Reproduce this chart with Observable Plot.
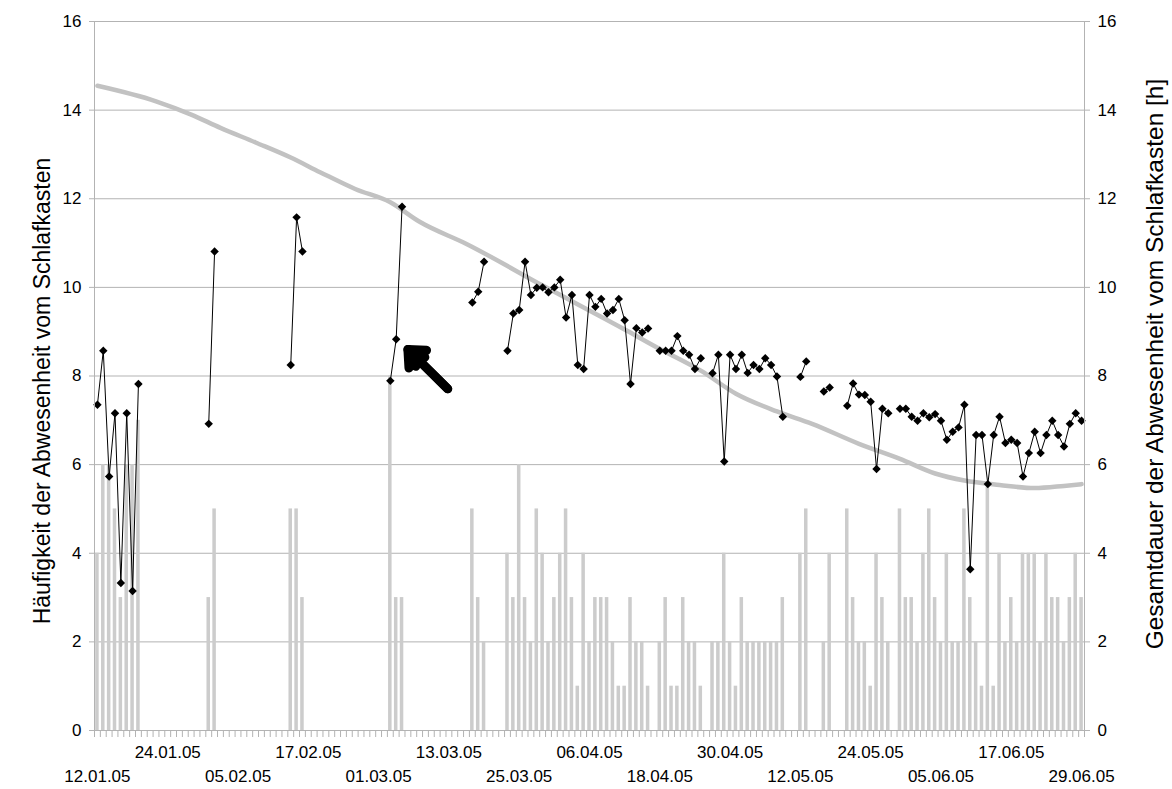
<!DOCTYPE html>
<html>
<head>
<meta charset="utf-8">
<script src="https://cdn.jsdelivr.net/npm/d3@7"></script>
<script src="https://cdn.jsdelivr.net/npm/@observablehq/plot@0.6"></script>
<style>
  html, body { margin: 0; padding: 0; background: #fff; }
  #chart svg { display: block; }
</style>
</head>
<body>
<div id="chart"></div>
<script>
// Häufigkeit der Abwesenheit (bars, left axis), one value per day from 12.01.05
const haeufigkeit = [
  4,6,6,5,3,6,6,7,0,0,0,0,
  0,0,0,0,0,0,0,3,5,0,0,0,
  0,0,0,0,0,0,0,0,0,5,5,3,
  0,0,0,0,0,0,0,0,0,0,0,0,
  0,0,8,3,3,0,0,0,0,0,0,0,
  0,0,0,0,5,3,2,0,0,0,4,3,
  6,3,2,5,4,2,3,4,5,3,1,4,
  2,3,3,3,2,1,1,3,2,2,1,0,
  2,3,1,1,3,2,2,1,0,2,2,4,
  2,1,3,2,2,2,2,2,2,3,0,0,
  4,5,0,0,2,4,0,0,5,3,2,2,
  1,4,3,2,0,5,3,3,2,4,5,3,
  2,4,2,2,5,3,2,1,5.5,1,4,2,
  3,2,4,4,4,2,4,3,3,2,3,4,
  3
];

// Gesamtdauer der Abwesenheit [h] (black line with diamonds, right axis)
const gesamtdauer = [
  7.35,8.57,5.73,7.16,3.33,7.16,3.15,7.82,null,null,null,null,
  null,null,null,null,null,null,null,6.92,10.81,null,null,null,
  null,null,null,null,null,null,null,null,null,8.25,11.58,10.81,
  null,null,null,null,null,null,null,null,null,null,null,null,
  null,null,7.89,8.83,11.82,null,null,null,null,null,null,null,
  null,null,null,null,9.66,9.9,10.58,null,null,null,8.57,9.41,
  9.49,10.58,9.83,9.99,10.0,9.89,10.0,10.17,9.32,9.83,8.25,8.16,
  9.83,9.56,9.74,9.41,9.49,9.74,9.26,7.82,9.08,8.98,9.07,null,
  8.57,8.57,8.57,8.9,8.57,8.48,8.16,8.4,null,8.06,8.48,6.07,
  8.48,8.16,8.48,8.07,8.25,8.16,8.4,8.25,7.99,7.08,null,null,
  7.98,8.33,null,null,7.65,7.74,null,null,7.33,7.83,7.58,7.57,
  7.42,5.9,7.26,7.16,null,7.26,7.26,7.08,6.99,7.16,7.07,7.14,
  6.99,6.56,6.74,6.84,7.35,3.64,6.67,6.67,5.56,6.67,7.08,6.49,
  6.56,6.49,5.73,6.26,6.74,6.26,6.67,6.99,6.67,6.41,6.92,7.16,
  6.99
];

// Grey reference curve (at these day indices)
const kurveTage  = [0, 10, 16, 21, 27, 33, 38, 44, 50, 55, 63, 76, 90, 96, 103, 109, 116, 122, 130, 137, 143, 148, 154, 160, 165, 168];
const kurveWerte = [14.55, 14.2, 13.9, 13.6, 13.27, 12.93, 12.6, 12.22, 11.92, 11.48, 10.98, 10.04, 9.05, 8.61, 8.12, 7.6, 7.2, 6.92, 6.47, 6.13, 5.8, 5.64, 5.54, 5.47, 5.52, 5.56];

// Axis ticks and labels
const yTicks = [0, 2, 4, 6, 8, 10, 12, 14, 16];
const labelTageOben  = [12, 36, 60, 84, 108, 132, 156];
const labelTexteOben = ["24.01.05", "17.02.05", "13.03.05", "06.04.05", "30.04.05", "24.05.05", "17.06.05"];
const labelTageUnten  = [0, 24, 48, 72, 96, 120, 144, 168];
const labelTexteUnten = ["12.01.05", "05.02.05", "01.03.05", "25.03.05", "18.04.05", "12.05.05", "05.06.05", "29.06.05"];

const titelLinks  = "Häufigkeit der Abwesenheit vom Schlafkasten";
const titelRechts = "Gesamtdauer der Abwesenheit vom Schlafkasten [h]";

// Arrow annotation (day index / value)
const pfeil = [{x1: 59.8, y1: 7.71, x2: 53.0, y2: 8.6}];

// ---- build ----
const N = haeufigkeit.length;
const tage = haeufigkeit.map((h, i) => ({i, h, g: gesamtdauer[i]}));
const kurve = kurveTage.map((t, k) => ({i: t, v: kurveWerte[k]}));
const grenzTicks = d3.range(N + 1).map(k => k - 0.5);
const mapOben = new Map(labelTageOben.map((t, k) => [t, labelTexteOben[k]]));
const mapUnten = new Map(labelTageUnten.map((t, k) => [t, labelTexteUnten[k]]));

const axisColor = "#b3b3b3";
const tickFont = 17;

const chart = Plot.plot({
  width: 1172,
  height: 789,
  marginLeft: 94,
  marginRight: 88,
  marginTop: 21,
  marginBottom: 59,
  style: {fontFamily: "'Liberation Sans', Arial, sans-serif", fontSize: tickFont + "px", background: "white", color: "black"},
  x: {type: "linear", domain: [-0.5, N - 0.5], axis: null, label: null},
  y: {domain: [0, 16], axis: null, label: null},
  marks: [
    Plot.gridY(yTicks, {stroke: axisColor, strokeOpacity: 1, strokeWidth: 1}),
    Plot.rectY(tage, {x1: d => d.i - 0.3, x2: d => d.i + 0.3, y1: 0, y2: "h", fill: "#cccccc"}),
    Plot.line(kurve, {x: "i", y: "v", curve: "monotone-x", stroke: "#c2c2c2", strokeWidth: 4.5}),
    Plot.lineY(tage, {x: "i", y: "g", stroke: "black", strokeWidth: 1}),
    Plot.dot(tage.filter(d => d.g != null), {x: "i", y: "g", symbol: "diamond2", r: 3.8, fill: "black", stroke: "none"}),
    Plot.arrow(pfeil, {x1: "x1", y1: "y1", x2: "x2", y2: "y2", stroke: "black", strokeWidth: 9, headLength: 4, headAngle: 84}),
    Plot.arrow(pfeil, {x1: "x1", y1: "y1", x2: "x2", y2: "y2", stroke: "black", strokeWidth: 9, headLength: 4, headAngle: 40}),
    Plot.frame({stroke: axisColor}),
    Plot.axisX({ticks: grenzTicks, tickSize: 7, tickFormat: () => "", stroke: axisColor, label: null}),
    Plot.axisX({ticks: labelTageOben, tickSize: 0, tickPadding: 15, tickFormat: d => mapOben.get(d), label: null, fill: "black", fontSize: tickFont}),
    Plot.axisX({ticks: labelTageUnten, tickSize: 0, tickPadding: 39, tickFormat: d => mapUnten.get(d), label: null, fill: "black", fontSize: tickFont}),
    Plot.axisY({anchor: "left", ticks: yTicks, tickSize: 5, tickPadding: 8, stroke: axisColor, label: null, fill: "black", fontSize: tickFont}),
    Plot.axisY({anchor: "right", ticks: yTicks, tickSize: 5, tickPadding: 8, stroke: axisColor, label: null, fill: "black", fontSize: tickFont}),
    Plot.text([titelLinks], {text: d => d, frameAnchor: "left", textAnchor: "middle", rotate: -90, dx: -52, dy: 15, fontSize: 23, fill: "black"}),
    Plot.text([titelRechts], {text: d => d, frameAnchor: "right", textAnchor: "middle", rotate: -90, dx: 71, dy: -12, fontSize: 24.5, fill: "black"})
  ]
});

document.getElementById("chart").append(chart);
</script>
</body>
</html>
